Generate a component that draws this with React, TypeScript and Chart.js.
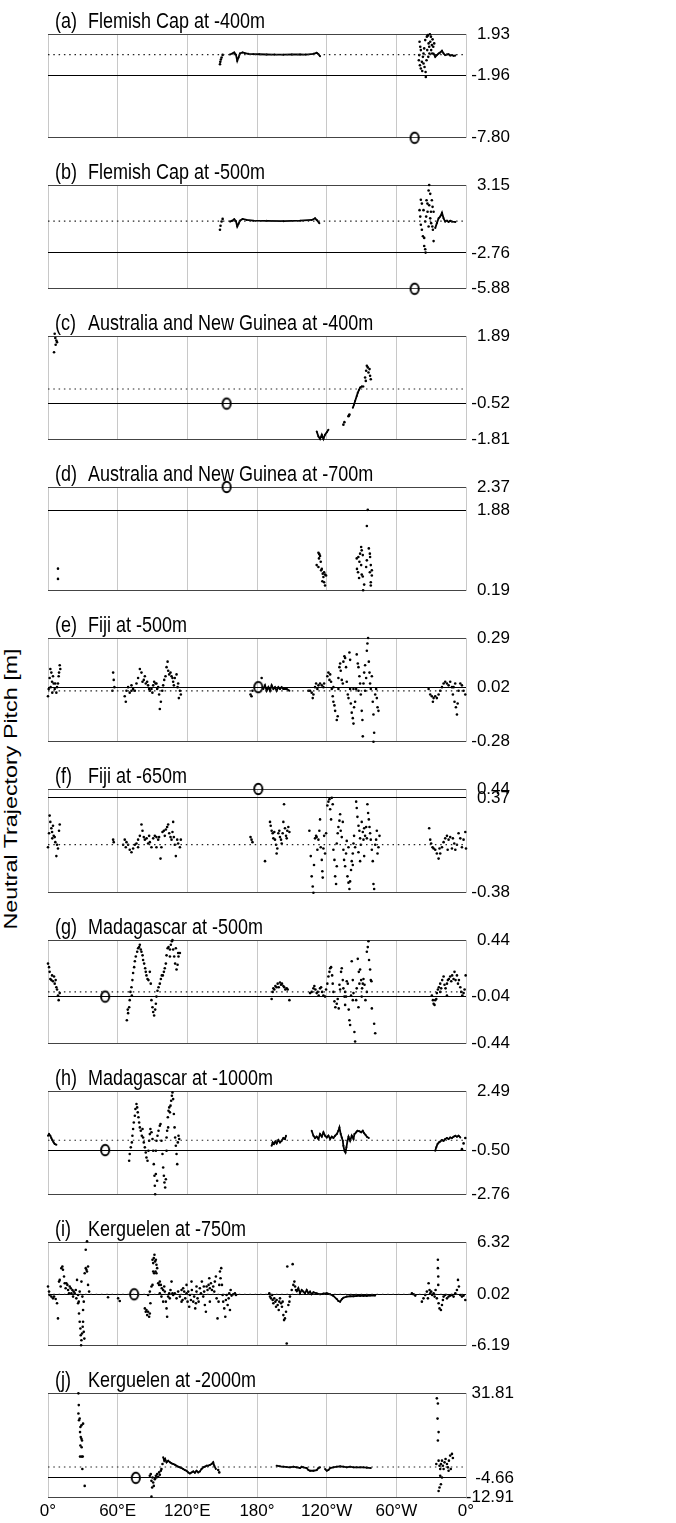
import React, { useEffect, useRef } from 'react';
import { Chart, registerables } from 'chart.js';
Chart.register(...registerables);

const FONT = '"Liberation Sans", Arial, Helvetica, sans-serif';

const lonTicks = [0, 60, 120, 180, 240, 300, 360];
const lonLabels = ['0°', '60°E', '120°E', '180°', '120°W', '60°W', '0°'];

const panelTags = ['(a)', '(b)', '(c)', '(d)', '(e)', '(f)', '(g)', '(h)', '(i)', '(j)'];
const panelNames = [
  'Flemish Cap at -400m', 'Flemish Cap at -500m',
  'Australia and New Guinea at -400m', 'Australia and New Guinea at -700m',
  'Fiji at -500m', 'Fiji at -650m',
  'Madagascar at -500m', 'Madagascar at -1000m',
  'Kerguelen at -750m', 'Kerguelen at -2000m',
];
const yMax = [1.93, 3.15, 1.89, 2.37, 0.29, 0.44, 0.44, 2.49, 6.32, 31.81];
const yMid = [-1.96, -2.76, -0.52, 1.88, 0.02, 0.37, -0.04, -0.50, 0.02, -4.66];
const yMin = [-7.80, -5.88, -1.81, 0.19, -0.28, -0.38, -0.44, -2.76, -6.19, -12.91];
const siteLon = [315.7, 315.7, 153.8, 153.8, 181.1, 181.1, 49.2, 49.2, 74.2, 75.6];
const siteVal = [-7.80, -5.88, -0.52, 2.37, 0.02, 0.44, -0.04, -0.50, 0.02, -4.66];

// ---- (a)
const ptsA = [[148.1,-0.90],[148.4,-0.68],[148.9,-0.46],[149.5,-0.27],[150.4,-0.03],
[320.0,1.21],[320.6,0.73],[319.7,-0.05],[321.1,0.42],[319.4,-0.53],[320.3,-1.00],[321.1,-1.31],[322.0,-0.68],[322.9,-0.21],[323.4,0.10],[324.0,0.58],[324.9,1.36],[324.3,-1.16],[325.2,-1.63],[325.4,-2.10],[326.3,1.68],[327.2,1.84],[327.8,1.05],[328.3,0.73],[329.2,1.21],[329.8,1.68],[330.0,0.42],[330.6,0.89],[331.2,1.43],[331.8,0.73],[332.6,1.05],[328.5,0.10],[327.5,-0.21],[326.0,-0.53],[322.3,-1.54],[323.4,-0.84],[326.6,0.42],[330.9,0.10],[328.9,1.90],[326.9,1.75]];
const trackA1 = [[156.7,0.01],[158.7,0.10],[160.4,0.20],[161.9,-0.02],[163.0,-0.59],[164.1,-0.27],[165.3,0.10],[167.6,0.20],[169.6,0.13],[172.5,0.07],[176.8,0.04],[182.0,0.03],[188.3,0.01],[195.0,0.00],[202.7,-0.01],[210.0,0.02],[217.1,0.01],[222.0,0.00],[228.6,0.07],[231.4,0.17],[232.9,0.04],[234.3,-0.15]];
const trackA2 = [[332.1,0.10],[333.5,-0.21],[334.9,-0.05],[336.4,0.10],[337.8,0.20],[339.3,0.36],[340.7,0.10],[342.1,-0.05],[343.6,0.01],[345.0,0.04],[346.4,-0.09],[347.9,-0.05],[349.3,-0.12],[350.8,-0.09]];

// ---- (b)
const ptsB = [[148.1,-0.74],[148.6,-0.40],[149.5,-0.03],[150.4,0.20],
[328.3,3.15],[327.8,2.67],[329.2,2.38],[321.1,1.87],[322.0,1.53],[326.0,1.82],[326.8,1.53],[328.3,1.39],[330.6,1.82],[331.2,1.25],[332.1,0.82],[320.0,0.96],[320.6,0.40],[321.1,-0.31],[322.0,-0.74],[322.9,-1.31],[324.0,-1.45],[324.9,-0.03],[325.7,0.40],[326.9,0.82],[327.8,-0.46],[329.2,0.25],[330.0,-0.17],[331.5,-0.74],[332.1,-1.73],[324.0,-2.16],[324.9,-2.44],[325.2,-2.73],[323.4,0.96],[329.8,0.82],[331.0,-0.46]];
const trackB1 = [[156.7,-0.03],[158.7,0.05],[160.4,0.17],[161.9,0.00],[163.0,-0.46],[164.1,-0.23],[165.3,0.05],[167.6,0.20],[171.1,0.11],[176.8,0.05],[188.3,0.03],[202.7,0.00],[217.1,0.05],[227.1,0.11],[230.0,0.25],[231.4,0.11],[233.7,-0.17]];
const trackB2 = [[333.5,-0.60],[334.9,-0.17],[336.4,0.25],[337.8,0.40],[339.3,0.74],[340.7,0.25],[342.1,-0.03],[343.6,0.05],[345.0,-0.06],[346.4,0.03],[347.9,-0.03],[350.8,-0.06]];

// ---- (c)
const ptsC = [[5.75,1.97],[6.3,1.82],[7.2,1.73],[7.8,1.67],[6.6,1.58],[5.2,1.31],
[254.4,-1.27],[255.3,-1.18],[258.8,-0.97],[259.6,-0.91],[259.2,-0.94],
[273.1,0.41],[274.0,0.65],[274.6,0.83],[275.4,0.77],[276.0,0.59],[277.4,0.47],[278.0,0.35],[276.9,0.71],[273.7,0.29]];
const trackC1 = [[231.4,-1.51],[232.9,-1.69],[234.3,-1.78],[235.8,-1.63],[237.2,-1.78],[238.6,-1.63],[240.1,-1.54],[241.5,-1.45]];
const trackC2 = [[262.5,-0.67],[263.6,-0.55],[264.5,-0.43],[265.9,-0.25],[266.8,-0.13],[267.9,-0.03],[268.8,0.05],[270.2,0.09],[271.7,0.09]];

// ---- (d)
const ptsD = [[8.6,0.655],[8.6,0.44],
[232.9,0.99],[233.7,0.96],[234.3,0.92],[233.4,0.87],[234.9,0.80],[231.4,0.73],[232.9,0.69],[235.8,0.65],[236.6,0.55],[237.8,0.58],[238.6,0.53],[239.5,0.51],[237.2,0.48],[236.3,0.39],[237.8,0.37],[238.6,0.30],[235.2,0.62],
[275.4,1.89],[274.6,1.55],[269.7,1.11],[270.2,1.04],[268.8,0.97],[267.3,0.90],[271.1,0.94],[265.9,0.87],[268.2,0.80],[269.7,0.73],[266.1,0.65],[267.0,0.58],[270.2,0.53],[267.9,0.46],[271.1,0.49],[276.3,1.08],[277.2,0.97],[277.4,0.90],[278.0,0.73],[278.9,0.62],[277.2,0.58],[278.9,0.51],[272.3,0.32],[271.4,0.20],[278.0,0.37],[278.0,0.30],[274.6,0.83],[274.0,0.69]];

// ---- (e)
const ptsE = [[0,-0.03],[0.6,0.01],[1.4,0.07],[2.0,0.12],[2.9,0.10],[3.5,0.05],[4.3,0.08],[4.9,0.04],[5.8,0.01],[6.3,0.04],[7.2,-0.01],[7.8,0.02],[8.6,0.04],[9.2,0.08],[10.1,0.14],[10.6,0.12],[9.5,0.10],[2.3,0.02],[3.7,-0.01],
[56.1,0.10],[56.6,0.06],[57.2,0.02],[55.5,0.00],
[66.1,-0.03],[67.0,-0.06],[67.6,0.00],[69.0,0.02],[70.4,-0.01],[71.9,0.00],[73.3,0.01],[74.8,0.00],[76.2,0.04],[77.6,0.07],[79.1,0.12],[80.5,0.10],[81.4,0.05],[82.5,0.06],[83.4,0.08],[84.2,0.04],[85.4,0.05],[86.2,0.03],[87.7,0.00],[89.1,0.01],[90.6,0.03],[91.4,0.05],[92.6,0.04],[93.4,0.04],[94.9,0.02],[95.7,-0.02],[96.3,-0.10],[97.2,-0.06],[98.4,0.00],[99.2,0.03],[100.1,0.06],[101.2,0.08],[102.1,0.13],[103.0,0.16],[103.5,0.11],[104.4,0.09],[105.5,0.10],[106.4,0.08],[107.2,0.07],[107.8,0.05],[109.2,0.07],[110.7,0.09],[111.6,0.02],[112.7,-0.04],[113.6,0.00],[114.4,-0.02],[87.1,0.01],[89.9,-0.01],[94.0,0.01],[108.4,0.03],[112.1,0.04],[71.9,0.03],
[174.4,-0.02],[175.3,-0.03],[176.1,0.00],[184.0,0.07],
[224.3,0.00],[225.7,0.00],[227.1,-0.01],[228.0,-0.04],[228.6,-0.02],[230.0,0.02],[230.9,0.04],[232.0,0.01],[232.9,0.03],[234.3,0.04],[235.8,0.03],[237.2,0.02],[237.8,0.04],
[240.6,0.08],[241.5,0.10],[242.4,0.06],[243.0,0.09],[243.8,0.05],[244.4,0.01],[245.2,-0.03],[245.8,-0.06],[246.7,-0.08],[247.3,-0.11],[248.7,-0.16],[249.5,-0.14],[250.1,0.07],[251.0,0.13],[251.6,0.15],[252.1,0.11],[253.0,0.06],[253.9,0.04],[254.4,0.16],[255.3,0.19],[255.9,0.18],[256.7,0.13],[257.3,0.05],[258.2,-0.02],[258.8,-0.04],[259.6,0.21],[260.2,0.17],[260.8,-0.07],[261.6,-0.12],[262.5,-0.15],[263.1,-0.18],[263.6,-0.09],[264.5,-0.06],[265.4,0.01],[265.9,0.20],[266.8,0.15],[267.4,0.13],[268.2,0.08],[268.8,0.04],[269.4,-0.02],[270.2,-0.11],[270.8,-0.16],[271.1,-0.25],[271.7,0.04],[272.3,0.10],[273.1,0.14],[274.0,0.07],[274.6,0.22],[275.1,0.26],[275.7,0.29],[276.3,0.16],[276.9,0.10],[277.4,0.04],[278.0,0.01],[278.9,0.08],[279.7,-0.06],[280.3,-0.13],[280.9,-0.23],[280.3,-0.28],[281.8,-0.02],[282.6,0.01],[283.2,-0.04],[283.8,-0.09],[284.6,-0.11],[260.2,0.01],[263.1,0.01],[267.4,0.00],[273.1,0.00],[250.1,0.01],[245.8,0.02],
[327.8,0.01],[329.2,-0.02],[330.6,-0.03],[332.1,-0.04],[333.5,-0.03],[334.9,-0.04],[336.4,-0.02],[337.8,0.00],[339.3,0.02],[340.7,0.04],[342.1,0.05],[343.6,0.04],[345.0,0.03],[346.4,0.05],[347.9,0.02],[348.7,-0.02],[349.3,0.02],[350.1,-0.06],[351.3,-0.09],[352.2,-0.13],[352.8,-0.07],[353.6,0.00],[355.1,0.04],[356.5,0.03],[357.9,0.00],[359.4,-0.02],[331.5,-0.06],[350.7,0.04]];
const trackE = [[185.4,0.01],[186.9,0.03],[188.3,0.00],[189.8,0.02],[191.2,0.00],[192.6,0.03],[194.1,0.01],[195.5,0.02],[196.9,0.00],[198.4,0.02],[199.8,0.01],[201.2,0.02],[202.7,0.01],[205.6,0.01],[207.9,0.00]];

// ---- (f)
const ptsF = [[0,-0.02],[0.9,0.09],[1.4,0.23],[2.0,0.18],[2.9,0.13],[3.5,0.10],[4.3,0.15],[4.9,0.07],[5.8,0.06],[6.3,0.02],[7.2,-0.09],[7.8,0.00],[8.6,-0.03],[9.5,0.11],[10.1,0.16],[3.7,0.05],
[56.1,0.04],[56.6,0.02],
[64.7,0.00],[66.1,0.04],[67.0,-0.02],[67.6,0.02],[69.0,0.00],[70.4,-0.04],[71.9,-0.06],[73.3,-0.03],[74.8,0.00],[76.2,0.01],[77.6,0.04],[79.1,0.07],[80.5,0.16],[81.4,0.11],[82.5,0.06],[83.4,0.04],[84.9,0.05],[86.2,0.01],[87.7,0.02],[89.1,-0.02],[90.6,0.05],[92.0,0.07],[93.4,0.06],[94.9,0.04],[95.7,0.06],[96.9,-0.11],[97.7,-0.02],[98.6,0.10],[99.8,0.11],[100.6,0.07],[101.5,0.12],[102.6,0.14],[103.5,0.16],[104.4,0.09],[105.5,0.06],[106.4,0.04],[107.2,0.10],[107.8,0.18],[108.4,0.06],[109.2,0.00],[110.1,-0.09],[111.3,0.04],[112.1,0.01],[113.6,-0.02],[114.4,0.04],[77.6,-0.02],[87.1,0.07],[93.4,-0.02],
[174.4,0.06],[175.3,0.04],[176.1,0.02],
[186.9,-0.13],[191.2,0.18],[191.8,0.15],[192.6,0.11],[193.5,0.09],[194.1,0.05],[194.9,0.10],[195.5,0.04],[196.4,0.00],[196.9,-0.07],[197.5,-0.03],[198.4,0.09],[199.2,0.11],[199.8,0.06],[200.7,0.04],[202.1,0.09],[202.7,0.18],[203.3,0.32],[204.1,0.13],[205.0,0.07],[205.6,0.05],[206.1,0.11],[207.0,0.14],[207.9,0.10],[201.3,0.01],
[225.1,0.11],[226.3,-0.09],[227.1,-0.25],[228.0,-0.33],[228.6,-0.38],[229.1,-0.16],[230.0,0.05],[230.9,0.07],[231.4,0.06],[232.0,-0.04],[232.9,0.04],[233.7,0.11],[234.3,0.20],[234.9,-0.02],[235.8,-0.12],[236.3,-0.21],[237.2,-0.03],[237.8,0.07],[238.6,-0.07],[236.6,-0.26],[239.5,0.09],
[240.6,0.31],[241.5,0.34],[242.4,0.36],[243.0,0.28],[243.8,0.20],[244.4,0.37],[245.2,0.32],[245.8,-0.04],[246.7,-0.12],[247.3,-0.25],[248.1,-0.31],[248.7,0.01],[249.5,0.09],[250.1,0.14],[251.0,0.19],[251.6,0.24],[252.1,0.11],[253.0,0.06],[253.9,0.18],[254.4,-0.04],[255.0,-0.12],[255.9,-0.17],[256.7,-0.07],[257.3,0.03],[257.9,-0.25],[258.8,-0.30],[259.6,-0.35],[260.2,-0.29],[261.0,-0.20],[261.6,-0.13],[262.5,-0.07],[263.1,0.01],[263.6,0.07],[264.5,-0.02],[265.4,0.34],[265.9,0.29],[266.5,0.22],[267.4,0.15],[268.2,0.11],[268.8,0.05],[269.4,0.00],[270.2,0.18],[271.1,0.10],[271.7,0.04],[272.3,0.13],[273.1,0.07],[274.0,0.14],[274.6,0.05],[275.1,0.32],[275.7,0.25],[276.3,0.20],[276.9,0.14],[277.4,0.09],[278.0,0.04],[278.9,-0.04],[279.7,-0.13],[280.3,-0.31],[280.9,-0.35],[281.8,0.00],[282.6,0.04],[283.2,0.11],[283.8,-0.07],[284.6,-0.02],[285.5,0.07],[262.5,-0.16],[258.8,-0.02],[267.4,-0.06],[272.3,-0.09],[268.8,-0.13],[248.7,-0.17],
[328.3,0.13],[329.2,0.04],[330.0,0.01],[331.2,-0.02],[332.1,-0.03],[333.5,-0.04],[334.9,-0.07],[336.4,-0.11],[337.8,-0.07],[339.3,-0.02],[340.7,0.02],[342.1,0.05],[343.6,0.07],[345.0,0.04],[346.4,0.06],[347.9,-0.03],[348.7,0.05],[349.9,0.01],[350.8,-0.04],[352.2,0.00],[353.6,0.09],[355.1,0.05],[356.5,-0.02],[357.9,0.04],[359.4,0.10],[360,-0.03],[344.2,-0.04],[337.2,-0.03]];

// ---- (g)
const ptsG = [[0,0.24],[0.9,0.21],[1.4,0.17],[2.0,0.11],[2.9,0.10],[3.5,0.14],[4.3,0.09],[5.2,0.13],[5.8,0.07],[6.6,0.10],[7.2,0.04],[7.8,0.02],[8.6,-0.03],[9.2,-0.07],[10.1,-0.01],
[67.9,-0.24],[69.0,-0.18],[69.9,-0.13],[70.4,-0.07],[71.0,0.00],[71.9,0.04],[72.7,0.10],[73.3,0.16],[74.2,0.21],[74.8,0.26],[75.6,0.30],[76.8,0.34],[77.6,0.37],[78.5,0.38],[79.1,0.40],[79.9,0.36],[80.5,0.34],[81.4,0.31],[81.9,0.27],[82.8,0.24],[83.7,0.20],[84.2,0.17],[84.8,0.14],[85.7,0.11],[86.5,0.10],[87.7,0.17],[88.5,0.07],[89.1,-0.07],[90.0,-0.13],[90.6,-0.17],[91.4,-0.20],[92.3,-0.15],[92.9,-0.10],[93.4,-0.04],[94.3,0.01],[95.2,0.04],[96.3,0.07],[97.2,0.11],[98.0,0.14],[98.9,0.14],[99.8,0.17],[100.6,0.20],[101.5,0.24],[102.1,0.31],[103.0,0.37],[103.8,0.38],[105.0,0.36],[105.8,0.40],[106.7,0.43],[107.2,0.44],[107.8,0.36],[108.7,0.30],[109.5,0.24],[110.7,0.19],[111.6,0.23],[112.4,0.30],[113.6,0.33],[112.1,0.33],[110.1,0.37],[105.0,0.30],[68.7,-0.15],[72.2,-0.03],
[192.6,-0.06],[193.5,0.00],[194.1,0.03],[194.9,0.02],[195.8,0.05],[196.9,0.04],[197.8,0.07],[198.7,0.04],[199.8,0.08],[200.7,0.06],[201.5,0.07],[202.7,0.05],[203.5,0.04],[204.4,0.02],[205.6,0.03],[206.4,0.02],[207.9,-0.07],
[225.7,-0.01],[227.1,0.00],[228.6,0.03],[229.4,0.05],[230.3,0.02],[231.4,-0.01],[232.3,0.00],[233.1,-0.03],[234.3,0.03],[235.2,0.04],[236.1,0.00],[237.2,-0.03],[238.6,-0.04],[239.5,0.02],
[240.6,0.07],[241.5,0.13],[242.4,0.17],[243.0,0.20],[243.8,0.21],[244.7,0.14],[245.2,0.07],[245.8,0.00],[246.7,-0.08],[247.5,-0.13],[248.7,-0.10],[249.5,-0.06],[250.4,-0.14],[251.0,0.06],[251.6,0.02],[252.4,0.17],[253.0,0.20],[253.9,0.10],[254.4,0.03],[255.3,-0.04],[255.9,-0.11],[256.7,-0.04],[257.3,0.09],[258.2,0.07],[259.0,-0.15],[259.6,-0.24],[260.2,-0.28],[261.0,-0.03],[261.6,0.26],[262.5,0.10],[263.1,-0.01],[263.9,-0.34],[264.5,-0.42],[265.4,-0.07],[265.9,0.03],[266.8,0.28],[267.7,0.17],[268.2,0.07],[268.8,0.19],[269.7,0.10],[270.5,0.03],[271.1,0.07],[271.7,0.11],[272.6,0.06],[273.4,-0.07],[274.6,0.34],[275.4,0.38],[276.0,0.43],[276.5,0.27],[277.4,0.19],[278.0,0.10],[278.6,0.09],[278.9,-0.14],[280.9,-0.27],[281.8,-0.35],[274.6,0.00],[270.2,-0.04],[255.9,0.00],[262.5,-0.07],[267.4,-0.13],
[330.6,-0.03],[331.5,-0.07],[332.1,-0.10],[332.9,-0.11],[333.5,-0.07],[334.4,-0.06],[334.9,-0.01],[335.8,0.02],[336.6,0.04],[337.8,0.07],[338.6,0.03],[339.5,0.10],[340.7,0.13],[341.5,0.06],[342.4,0.03],[343.6,0.07],[344.4,0.10],[345.3,0.11],[346.4,0.13],[347.3,0.09],[348.1,0.14],[349.3,0.11],[350.1,0.17],[351.0,0.10],[352.2,0.14],[353.1,0.07],[353.9,0.10],[355.1,0.04],[355.9,0.00],[356.8,-0.03],[357.9,-0.01],[358.8,0.02],[359.7,0.14],[343.6,-0.03],[337.8,0.00]];

// ---- (h)
const ptsH = [[69.9,-1.04],[70.4,-0.70],[71.3,-0.36],[72.2,-0.11],[72.7,0.23],[73.3,0.57],[73.9,0.90],[74.8,1.24],[75.3,1.58],[76.2,1.83],[76.8,1.66],[77.3,1.41],[77.9,1.16],[78.5,0.90],[79.1,0.65],[79.9,0.48],[80.8,0.23],[81.4,0.57],[81.9,0.14],[82.5,-0.11],[83.4,-0.36],[84.2,-0.62],[84.8,-0.87],[85.7,-1.04],[86.5,-0.53],[87.1,-0.03],[87.7,0.31],[88.2,0.57],[89.1,0.40],[90.0,0.06],[90.6,-0.53],[91.1,-1.21],[91.7,-1.80],[92.0,-2.30],[92.3,-2.73],[92.9,-0.53],[93.4,-0.03],[94.3,0.23],[95.2,0.48],[96.3,0.73],[96.9,0.82],[97.7,-0.03],[98.6,-0.70],[99.2,-1.38],[99.8,-1.80],[100.3,-2.14],[100.9,-2.39],[101.5,-1.97],[102.1,-0.53],[102.6,0.48],[103.2,1.16],[103.8,1.49],[104.4,1.66],[105.0,1.41],[105.5,1.75],[106.1,2.00],[106.7,2.25],[107.2,2.42],[107.8,2.08],[108.4,1.33],[109.0,0.65],[109.5,0.14],[110.1,-0.28],[110.7,-0.70],[111.3,-1.21],[111.8,-0.11],[112.4,0.23],[113.0,0.06],[92.9,-1.71],[94.0,-2.05],[102.1,0.14],[103.5,0.65]];
const trackH1 = [[0,0.23],[0.9,0.31],[2.0,0.23],[2.9,0.11],[3.7,0.01],[4.9,-0.11],[5.8,-0.19],[7.2,-0.23]];
const trackH2 = [[192.6,-0.28],[193.5,-0.11],[194.6,-0.19],[195.8,-0.06],[196.9,-0.16],[198.4,0.01],[199.8,-0.11],[201.2,-0.03],[202.7,0.11],[204.1,0.06],[205.0,0.23]];
const trackH3 = [[227.1,0.48],[228.6,0.23],[230.0,0.11],[231.4,0.18],[232.9,0.06],[234.3,0.31],[235.8,0.18],[237.2,0.40],[238.6,0.23],[240.1,0.14],[241.5,0.23],[243.0,0.06],[244.4,0.18],[245.8,0.11],[247.3,0.23],[248.7,0.31],[250.1,0.48],[251.0,0.65],[252.1,0.31],[253.0,0.14],[253.9,-0.03],[254.4,-0.28],[255.3,-0.53],[256.2,-0.62],[257.0,-0.36],[257.9,-0.03],[258.8,0.18],[260.2,-0.03],[261.6,0.23],[263.1,0.06],[263.9,0.31],[265.4,0.40],[266.5,0.48],[268.2,0.45],[269.7,0.40],[271.1,0.48],[272.3,0.35],[273.4,0.28],[274.6,0.18],[276.3,0.11]];
const trackH4 = [[333.5,-0.53],[334.4,-0.36],[335.5,-0.19],[336.6,-0.11],[337.8,-0.06],[339.3,0.01],[340.7,-0.03],[342.1,0.06],[343.6,0.11],[345.0,0.06],[346.4,0.14],[347.9,0.11],[349.3,0.18],[350.8,0.23],[352.2,0.18],[353.6,0.23],[355.1,0.14]];
const ptsH2 = [[356.5,-0.45],[357.9,-0.16],[359.4,0.11]];

// ---- (i)
const ptsI = [[0,0.95],[0.9,0.34],[1.4,-0.06],[2.9,-0.26],[4.3,-0.47],[5.2,-0.26],[6.6,-0.55],[7.8,-1.07],[8.6,-2.89],[9.5,1.55],[10.1,1.75],[10.9,0.95],[11.5,3.17],[12.4,3.37],[12.9,2.97],[13.8,2.16],[14.4,1.35],[15.2,0.75],[15.8,1.35],[16.7,1.15],[17.3,0.54],[18.1,0.14],[18.7,0.95],[19.6,0.75],[20.1,0.14],[21.0,0.54],[21.6,-0.26],[22.1,0.34],[23.0,0.14],[23.9,0.54],[24.4,-0.47],[25.0,1.75],[25.9,-1.07],[26.5,-0.87],[26.7,-2.29],[27.3,-3.30],[27.9,-4.10],[28.2,-4.91],[28.8,-5.52],[29.3,-4.71],[29.9,-3.90],[30.2,-3.30],[30.8,-4.51],[31.3,-5.32],[28.5,-6.12],[30.2,-1.88],[30.8,-0.87],[29.6,-0.26],[28.8,1.55],[31.6,2.56],[32.5,3.17],[33.1,2.97],[33.6,2.77],[34.5,3.37],[32.5,5.39],[33.6,6.40],[34.5,1.15],[35.4,0.34],[27.3,0.34],[25.9,-0.06],[51.7,-0.34],
[60.4,-0.47],[61.8,-0.79],
[83.4,-1.68],[84.2,-2.08],[84.8,-1.88],[85.4,-2.49],[86.2,-2.08],[87.1,-2.69],[87.7,-2.29],[88.2,-1.07],[86.2,-0.06],[87.7,0.34],[89.1,0.95],[90.0,1.15],[90.0,4.18],[90.6,3.78],[91.1,4.38],[91.7,4.79],[92.3,3.98],[92.9,4.18],[93.4,3.57],[94.0,3.17],[90.6,2.77],[91.4,2.56],[92.6,2.77],[93.4,2.56],[94.9,1.35],[95.7,1.15],[96.3,1.55],[97.2,1.15],[98.0,0.75],[99.2,0.54],[100.1,0.95],[100.6,0.34],[101.5,-0.87],[102.1,-1.68],[102.6,-2.69],[103.5,-0.26],[104.4,0.14],[105.5,0.54],[106.4,1.55],[107.2,0.14],[104.9,-0.47],[97.7,-0.26],[99.2,-0.87],[96.3,0.14],
[107.8,-0.06],[109.2,0.14],[110.7,-0.47],[112.1,0.34],[113.6,-0.26],[115.0,0.54],[115.9,-0.67],[116.4,0.75],[117.3,0.34],[118.2,-0.47],[119.3,1.15],[120.2,-0.87],[120.8,0.34],[121.6,-1.48],[122.2,-0.06],[123.1,-0.67],[123.9,0.54],[125.1,-0.87],[125.9,-0.26],[126.8,-1.68],[127.4,-1.07],[127.9,0.34],[128.8,-0.47],[129.7,-0.87],[130.8,0.75],[131.7,0.14],[132.5,1.55],[133.7,-0.26],[134.5,0.34],[135.1,-1.27],[136.0,-2.08],[136.6,0.95],[137.4,0.54],[138.3,1.15],[138.9,1.96],[139.4,0.75],[140.3,1.35],[141.2,0.54],[142.3,0.95],[143.2,0.34],[143.7,1.55],[144.6,2.16],[145.2,-0.47],[146.0,-2.89],[146.9,-0.87],[147.5,1.15],[148.1,2.77],[148.6,1.96],[149.2,3.17],[149.8,1.15],[150.4,-0.06],[150.9,-0.87],[151.8,-1.68],[152.7,-2.69],[153.2,-0.67],[153.8,-0.06],[154.7,-1.27],[155.6,-0.47],[156.1,0.14],[156.7,-1.88],[157.3,0.54],[158.1,-0.14],[159.6,0.02],[161.0,0.14],[161.9,-0.06],[123.6,1.55],[134.2,0.95],[139.4,-0.87],[115.0,-0.87],[119.3,0.14],[127.9,0.95],
[190.6,0.14],[191.2,-0.26],[192.1,-0.47],[193.0,-0.06],[193.5,-0.67],[194.1,-1.07],[194.9,-0.47],[195.8,-0.87],[196.4,-1.48],[196.9,-0.67],[197.8,-1.27],[198.7,-1.88],[199.2,-0.87],[199.8,-0.47],[200.7,-1.07],[201.5,-1.48],[202.1,-0.87],[202.7,-2.49],[203.3,-3.09],[204.1,-2.89],[205.0,-2.08],[205.6,-5.92],[206.1,3.37],[207.0,-1.27],[207.9,-0.87],[208.4,-0.26],[209.9,0.54],[210.7,3.65],[211.3,1.15],[212.2,1.55],[212.8,0.95],[213.6,0.54],
[313.4,0.14],[314.8,0.02],[316.3,-0.14],[322.0,-0.87],[323.4,-0.47],[324.9,-0.06],[326.3,0.34],[327.8,1.35],[328.6,0.54],[329.2,0.14],[330.0,0.34],[330.9,-0.06],[332.1,0.14],[333.0,-0.26],[333.8,0.54],[334.9,-0.47],[335.8,4.18],[335.8,3.17],[336.1,2.16],[336.1,1.15],[336.4,-1.07],[337.2,-1.68],[338.4,-1.88],[339.3,-1.27],[340.1,-0.67],[340.7,-0.26],[342.1,-0.06],[343.6,-0.47],[345.0,-0.26],[346.4,-0.14],[347.9,-0.06],[349.3,-0.26],[350.8,0.14],[352.2,0.54],[353.1,1.75],[353.9,0.95],[355.1,-0.06],[356.5,-0.26],[357.9,-0.14],[359.4,-0.67],[327.2,-0.47]];
const trackI = [[214.2,0.34],[215.6,0.75],[217.1,0.14],[218.5,0.54],[219.9,0.34],[221.4,0.14],[222.8,0.54],[224.3,0.14],[225.7,0.34],[227.1,0.02],[228.6,0.26],[231.4,0.14],[234.3,0.02],[237.2,0.10],[240.1,0.14],[243.0,0.02],[245.8,-0.18],[248.7,-0.55],[250.1,-0.79],[251.6,-0.87],[253.0,-0.59],[254.4,-0.39],[257.3,-0.26],[260.2,-0.22],[263.1,-0.22],[265.9,-0.18],[268.8,-0.18],[271.7,-0.18],[274.6,-0.18],[277.4,-0.14],[281.8,-0.14]];

// ---- (j)
const ptsJ = [[26.2,31.67],[26.5,26.6],[26.2,22.98],[26.7,20.09],[27.3,20.81],[27.9,17.2],[28.8,17.9],[27.6,15.0],[28.2,12.85],[28.8,12.13],[29.3,11.41],[27.9,9.24],[29.0,8.51],[27.6,4.46],[29.0,4.46],[29.9,4.46],[29.6,-0.89],[31.6,-8.13],[30.2,18.64],
[87.7,-3.79],[88.5,-3.06],[89.1,-5.96],[90.0,-4.51],[90.6,-6.68],[89.7,-8.85],[91.1,-8.13],[89.1,-12.76],[92.0,-5.23],[92.9,-3.79],[93.4,-4.51],[94.0,-3.06],[94.9,-4.22],[95.7,-2.34],[96.3,-3.35],[97.2,-1.60],[97.7,-0.89],[98.6,1.28],
[334.9,29.5],[335.8,27.3],[335.5,20.8],[336.4,15.0],[335.8,11.4],[336.4,2.72],[337.2,0.55],[337.8,-0.89],[338.4,1.28],[339.3,2.72],[340.1,0.55],[340.7,-0.89],[341.5,2.00],[342.4,3.45],[343.6,1.28],[344.4,-0.17],[345.3,2.72],[346.4,4.90],[347.9,5.62],[348.7,3.88],[346.9,-0.89],[337.8,-3.79],[339.3,-4.51],[338.4,-7.41],[337.2,-8.85],[336.4,-10.3],[334.4,1.28],[345.0,-1.62]];
const trackJ1 = [[99.2,4.17],[100.1,2.72],[100.9,3.45],[102.1,2.00],[103.5,2.72],[105.0,2.00],[106.4,1.57],[107.8,1.28],[109.2,0.99],[110.7,0.55],[112.1,0.12],[113.6,-0.17],[115.0,-0.46],[116.4,-0.89],[117.9,-1.33],[119.3,-1.62],[120.8,-2.34],[122.2,-2.77],[123.6,-2.34],[125.1,-1.91],[126.5,-2.49],[127.9,-1.62],[129.4,-2.34],[130.8,-1.91],[132.2,-0.89],[133.7,-0.17],[135.1,0.12],[136.6,0.55],[138.0,0.55],[139.4,0.84],[140.9,1.28],[142.3,2.00],[143.2,0.55],[144.6,-0.89]];
const ptsJ2 = [[146.6,-1.33],[147.5,-2.34]];
const trackJ2 = [[196.9,0.55],[199.8,0.26],[202.7,0.12],[205.6,-0.03],[208.4,-0.17],[211.3,0.12],[214.2,-0.17],[217.1,-0.46],[218.5,0.12],[219.9,-0.17],[222.8,-0.46],[224.3,-1.33],[225.7,-1.62],[228.6,-1.62],[231.4,-1.33],[232.9,-0.46],[234.3,-0.17]];
const trackJ3 = [[238.6,-0.89],[240.1,-1.62],[241.5,-1.33],[243.0,-0.46],[245.8,-0.17],[248.7,0.12],[251.6,0.26],[254.4,0.12],[257.3,-0.17],[260.2,0.12],[263.1,-0.17],[265.9,-0.17],[268.8,-0.17],[271.7,-0.17],[274.6,-0.31],[278.0,-0.46]];

const panelPoints = [ptsA, ptsB, ptsC, ptsD, ptsE, ptsF, ptsG, ptsH.concat(ptsH2), ptsI, ptsJ.concat(ptsJ2)];
const panelTracks = [
  [trackA1, trackA2], [trackB1, trackB2], [trackC1, trackC2], [], [trackE], [], [],
  [trackH1, trackH2, trackH3, trackH4], [trackI], [trackJ1, trackJ2, trackJ3],
];

const TOP_SPACE = 34;
const PLOT_H = 104;
const STEP = 151;
const FIRST_TOP = 34;
const PLOT_LEFT = 48;
const PLOT_RIGHT = 466;

function makeRing() {
  const c = document.createElement('canvas');
  c.width = 14; c.height = 16;
  const g = c.getContext('2d');
  if (g) {
    g.strokeStyle = '#000';
    g.lineWidth = 1.9;
    g.beginPath();
    g.ellipse(7, 8, 4.1, 5.2, 0, 0, Math.PI * 2);
    g.stroke();
  }
  return c;
}

function Panel({ i }: { i: number }) {
  const ref = useRef<HTMLCanvasElement>(null);
  const last = i === 9;
  const H = TOP_SPACE + PLOT_H + (last ? 27 : 14);
  useEffect(() => {
    const canvas = ref.current;
    if (!canvas) return;
    const labelRight = last ? 514 : 510;
    const axisW = labelRight - PLOT_RIGHT;
    const ring = makeRing();
    const toXY = (arr: number[][]) => arr.map(([x, y]) => ({ x, y }));
    const datasets: any[] = [
      {
        data: [{ x: 0, y: 0 }, { x: 360, y: 0 }],
        showLine: true, borderColor: '#222', borderWidth: 1.2, borderDash: [1.5, 3.8],
        pointRadius: 0,
      },
    ];
    panelTracks[i].forEach((t) => {
      datasets.push({
        data: toXY(t), showLine: true, borderColor: '#000', borderWidth: 1.8,
        pointRadius: 1, pointBackgroundColor: '#000', pointBorderWidth: 0, clip: 4,
      });
    });
    datasets.push({
      data: toXY(panelPoints[i]), showLine: false, pointRadius: 1.3,
      pointBackgroundColor: '#000', pointBorderWidth: 0, clip: 4,
    });
    datasets.push({
      data: [{ x: siteLon[i], y: siteVal[i] }], showLine: false, pointStyle: ring,
      pointRadius: 5, clip: false,
    });

    const chart = new Chart(canvas, {
      type: 'scatter',
      data: { datasets },
      options: {
        animation: false,
        responsive: false,
        devicePixelRatio: 1,
        events: [],
        layout: { padding: { left: PLOT_LEFT, top: TOP_SPACE, right: 676 - labelRight, bottom: last ? 3 : 14 } },
        plugins: { legend: { display: false }, tooltip: { enabled: false }, title: { display: false } },
        scales: {
          x: {
            type: 'linear', min: 0, max: 360,
            afterBuildTicks: (s: any) => { s.ticks = lonTicks.map((v) => ({ value: v })); },
            afterFit: (s: any) => { if (last) s.height = 24; },
            grid: { color: '#c8c8c8', lineWidth: 1, drawTicks: false },
            border: { display: false },
            ticks: {
              display: last, autoSkip: false, maxRotation: 0, minRotation: 0, padding: 4,
              font: { family: FONT, size: 17 }, color: '#000',
              callback: (v: any) => { const k = lonTicks.indexOf(Number(v)); return k >= 0 ? lonLabels[k] : ''; },
            },
          },
          y: {
            type: 'linear', position: 'right', min: yMin[i], max: yMax[i],
            afterBuildTicks: (s: any) => { s.ticks = [yMin[i], yMid[i], yMax[i]].map((v) => ({ value: v })); },
            afterFit: (s: any) => { s.width = axisW; },
            grid: { color: (c: any) => (c.index === 1 ? '#000' : '#444'), lineWidth: 1, drawTicks: false },
            border: { display: false },
            ticks: {
              autoSkip: false, padding: 4, crossAlign: 'far',
              font: { family: FONT, size: 17 }, color: '#000',
              callback: (v: any) => Number(v).toFixed(2),
            },
          },
        },
      } as any,
      plugins: [{
        id: 'panelTitle',
        afterDraw(c: any) {
          const { ctx, chartArea } = c;
          ctx.save();
          ctx.fillStyle = '#000';
          ctx.font = `18px ${FONT}`;
          ctx.textBaseline = 'alphabetic';
          ctx.textAlign = 'left';
          ctx.translate(chartArea.left + 7, chartArea.top - 6);
          ctx.scale(1, 1.2);
          ctx.fillText(panelTags[i], 0, 0);
          ctx.fillText(panelNames[i], 33, 0);
          ctx.restore();
        },
      }],
    });
    return () => chart.destroy();
  }, []);
  return (
    <canvas
      ref={ref}
      width={676}
      height={H}
      style={{ position: 'absolute', left: 0, top: FIRST_TOP + STEP * i - TOP_SPACE, width: 676, height: H, display: 'block' }}
    />
  );
}

export default function App() {
  const idx = [0, 1, 2, 3, 4, 5, 6, 7, 8, 9];
  return (
    <div style={{ position: 'absolute', left: 0, top: 0, width: 676, height: 1523, background: '#fff', overflow: 'hidden' }}>
      <div
        style={{
          position: 'absolute', left: 10.6 - 200, top: 788.5 - 12, width: 400, height: 24,
          lineHeight: '24px', textAlign: 'center', fontFamily: FONT, fontSize: 18.5, color: '#000',
          transform: 'rotate(-90deg) scaleX(1.26)', whiteSpace: 'nowrap',
        }}
      >
        Neutral Trajectory Pitch [m]
      </div>
      {idx.map((i) => <Panel key={i} i={i} />)}
    </div>
  );
}
